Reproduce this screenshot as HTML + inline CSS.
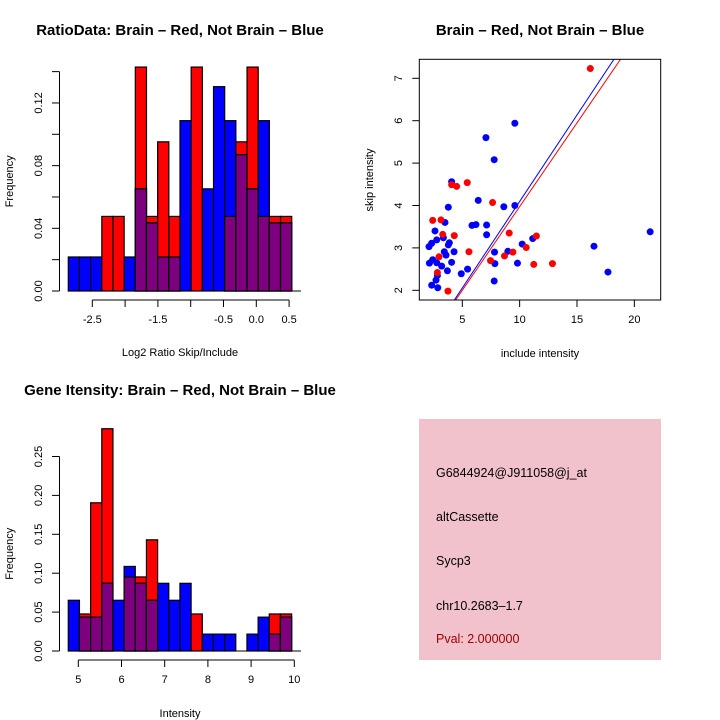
<!DOCTYPE html>
<html><head><meta charset="utf-8"><style>
body{margin:0;background:#fff}
svg{display:block;font-family:"Liberation Sans",sans-serif}
</style></head><body>
<svg id="c" width="720" height="720" viewBox="0 0 720 720">
<rect width="720" height="720" fill="#fff"/>
<text x="180" y="35" text-anchor="middle" font-size="15" font-weight="bold">RatioData: Brain – Red, Not Brain – Blue</text>
<text x="540" y="35" text-anchor="middle" font-size="15" font-weight="bold">Brain – Red, Not Brain – Blue</text>
<text x="180" y="395" text-anchor="middle" font-size="15" font-weight="bold">Gene Itensity: Brain – Red, Not Brain – Blue</text>
<g id="h1"></g>
<g id="sc"></g>
<g id="h2"></g>
<g>
<rect x="419" y="419" width="242" height="241" fill="#f2c2cc"/>
<g font-size="12.5" fill="#000">
<text x="436" y="477">G6844924@J911058@j_at</text>
<text x="436" y="521">altCassette</text>
<text x="436" y="565">Sycp3</text>
<text x="436" y="610">chr10.2683–1.7</text>
<text x="436" y="643" fill="#a00000">Pval: 2.000000</text>
</g></g>
</svg>
<script>
// ---- Ratio histogram data ----
const ratioBinStart = -2.866, ratioBinWidth = 0.1703;
const ratioRed  = [0,0,0,0.0476,0.0476,0,0.1429,0.0476,0.0952,0.0476,0,0.1429,0,0,0.0476,0.0952,0.1429,0.0476,0.0476,0.0476];
const ratioBlue = [0.0217,0.0217,0.0217,0,0,0.0217,0.0652,0.0435,0.0217,0.0217,0.1087,0,0.0652,0.1304,0.1087,0.087,0.0652,0.1087,0.0435,0.0435];
const ratioXTicks = [-2.5,-2,-1.5,-1,-0.5,0,0.5];
const ratioXLabels = ["-2.5","","-1.5","","-0.5","0.0","0.5"];
const ratioYTicks = [0,0.02,0.04,0.06,0.08,0.10,0.12,0.14];
const ratioYLabels = ["0.00","","0.04","","0.08","","0.12",""];
// ---- Intensity histogram data ----
const intBinStart = 4.768, intBinWidth = 0.2585;
const intRed  = [0,0.0476,0.1905,0.2857,0,0.0952,0.0952,0.1429,0,0,0,0.0476,0,0,0,0,0,0,0.0476,0.0476];
const intBlue = [0.0652,0.0435,0.0435,0.087,0.0652,0.1087,0.087,0.0652,0.087,0.0652,0.087,0,0.0217,0.0217,0.0217,0,0.0217,0.0435,0.0217,0.0435];
const intXTicks = [5,6,7,8,9,10];
const intYTicks = [0,0.05,0.10,0.15,0.20,0.25];
const intYLabels = ["0.00","0.05","0.10","0.15","0.20","0.25"];
// ---- Scatter data ----
const blueX = [2.10,2.33,2.77,2.62,3.49,3.78,4.07,2.13,2.42,2.77,3.20,3.35,3.43,3.58,3.70,3.78,3.87,4.07,4.28,2.33,2.71,2.86,2.83,4.91,5.46,5.84,6.19,6.39,7.06,7.12,7.12,7.78,7.81,7.84,7.78,8.62,8.97,9.58,9.58,9.81,10.22,11.14,16.48,17.70,21.38];
const blueY = [3.03,3.11,3.19,3.40,3.60,3.96,4.56,2.64,2.72,2.65,2.57,3.24,2.91,2.83,2.46,3.07,3.12,2.66,2.91,2.12,2.24,2.06,2.35,2.39,2.50,3.53,3.55,4.12,5.60,3.54,3.31,5.08,2.90,2.63,2.22,3.97,2.92,4.00,5.94,2.64,3.09,3.22,3.04,2.43,3.38];
const redX = [2.42,3.14,3.29,2.97,2.83,3.75,4.07,4.51,4.30,5.43,5.58,7.64,7.46,8.68,9.09,9.41,10.57,11.23,11.46,12.86,16.16];
const redY = [3.65,3.66,3.32,2.79,2.42,1.98,4.49,4.45,3.29,4.54,2.91,4.07,2.70,2.81,3.35,2.90,3.01,2.61,3.28,2.63,7.23];
const fitBlue = [0.015,0.408];
const fitRed = [0.024,0.395];
const scXTicks = [5,10,15,20];
const scYTicks = [2,3,4,5,6,7];

const NS="http://www.w3.org/2000/svg";
function mk(tag,attrs,parent,txt){const e=document.createElementNS(NS,tag);for(const k in attrs)e.setAttribute(k,attrs[k]);if(txt!==undefined)e.textContent=txt;parent.appendChild(e);return e;}

function hist(g,start,w,red,blue,xs,ys,xTicks,xLabels,yTicks,yLabels,axisY,xTitle,xTitleY){
  const X=v=>xs[0]+(v-xs[1])*xs[2];
  const Y=v=>ys[0]-v*ys[1];
  for(let i=0;i<red.length;i++){
    const x0=X(start+i*w),x1=X(start+(i+1)*w);
    const r=red[i],b=blue[i],m=Math.min(r,b),mx=Math.max(r,b);
    if(mx<=0)continue;
    if(r>0){const e=mk('rect',{x:x0,y:Y(r),width:x1-x0,height:Y(0)-Y(r),fill:'#ff0000',stroke:'#000','stroke-width':1.2},g);
      
      }
    if(b>0){const e=mk('rect',{x:x0,y:Y(b),width:x1-x0,height:Y(0)-Y(b),fill:'#0000ff',stroke:'#000','stroke-width':1.2},g);
      
      }
    if(m>0){const e=mk('rect',{x:x0,y:Y(m),width:x1-x0,height:Y(0)-Y(m),fill:'#7f007f',stroke:'#000','stroke-width':1.2},g);
      
      }
  }
  mk('line',{x1:68,x2:301,y1:Y(0),y2:Y(0),stroke:'#000','stroke-width':1},g);
  const ya=mk('g',{},g);
  
  
  mk('line',{x1:59.5,x2:59.5,y1:Y(yTicks[0]),y2:Y(yTicks[yTicks.length-1]),stroke:'#000'},ya);
  yTicks.forEach((t,i)=>{mk('line',{x1:52,x2:59.5,y1:Y(t),y2:Y(t),stroke:'#000'},ya);
    if(yLabels[i]){mk('text',{x:0,y:0,transform:`translate(42,${Y(t)}) rotate(-90)`,'text-anchor':'middle','font-size':11},ya,yLabels[i]);}});
  const yt=mk('text',{transform:`translate(13,${(Y(yTicks[0])+Y(yTicks[yTicks.length-1]))/2}) rotate(-90)`,'text-anchor':'middle','font-size':11},g,'Frequency');
  
  
  const xa=mk('g',{},g);
  
  
  mk('line',{x1:X(xTicks[0]),x2:X(xTicks[xTicks.length-1]),y1:axisY,y2:axisY,stroke:'#000'},xa);
  xTicks.forEach((t,i)=>{mk('line',{x1:X(t),x2:X(t),y1:axisY,y2:axisY+7,stroke:'#000'},xa);
    if(xLabels[i])mk('text',{x:X(t),y:axisY+23,'text-anchor':'middle','font-size':11},xa,xLabels[i]);});
  const xt=mk('text',{x:180,y:xTitleY,'text-anchor':'middle','font-size':11},g,xTitle);
  
  
}
hist(document.getElementById('h1'),ratioBinStart,ratioBinWidth,ratioRed,ratioBlue,[92.3,-2.5,65.6],[291,1567],ratioXTicks,ratioXLabels,ratioYTicks,ratioYLabels,300,'Log2 Ratio Skip/Include',356);
hist(document.getElementById('h2'),intBinStart,intBinWidth,intRed,intBlue,[78.3,5,43.2],[651,778],intXTicks,intXTicks.map(String),intYTicks,intYLabels,660,'Intensity',717);

(function(){
  const g=document.getElementById('sc');
  const X=v=>462.3+(v-5)*11.47, Y=v=>290.3-(v-2)*42.4;
  const L=419.3,R=660.7,T=59.3,B=300;
  mk('clipPath',{id:'clip'},g);
  mk('rect',{x:L,y:T,width:R-L,height:B-T},document.getElementById('clip'));
  const pts=mk('g',{},g);
  blueX.forEach((x,i)=>{const c=mk('circle',{cx:X(x),cy:Y(blueY[i]),r:3.5,fill:'#0000ff'},pts);
    
    });
  redX.forEach((x,i)=>{const c=mk('circle',{cx:X(x),cy:Y(redY[i]),r:3.5,fill:'#ff0000'},pts);
    
    });
  [[fitBlue,'#0000ff','blue-fit-line'],[fitRed,'#ff0000','red-fit-line']].forEach(([f,col,n])=>{
    const l=mk('line',{x1:X(0),y1:Y(f[0]),x2:X(25),y2:Y(f[0]+f[1]*25),stroke:col,'stroke-width':1,'clip-path':'url(#clip)'},g);
    
    });
  mk('rect',{x:L,y:T,width:R-L,height:B-T,fill:'none',stroke:'#000','stroke-width':1},g);
  scXTicks.forEach(t=>{mk('line',{x1:X(t),x2:X(t),y1:B,y2:B+7,stroke:'#000'},g);
    mk('text',{x:X(t),y:B+23,'text-anchor':'middle','font-size':11},g,String(t));});
  scYTicks.forEach(t=>{mk('line',{x1:L-7,x2:L,y1:Y(t),y2:Y(t),stroke:'#000'},g);
    mk('text',{transform:`translate(402,${Y(t)}) rotate(-90)`,'text-anchor':'middle','font-size':11},g,String(t));});
  const xt=mk('text',{x:540,y:357,'text-anchor':'middle','font-size':11},g,'include intensity');
  
  
  const yt=mk('text',{transform:'translate(373,180) rotate(-90)','text-anchor':'middle','font-size':11},g,'skip intensity');
  
  
})();
</script>
</body></html>
